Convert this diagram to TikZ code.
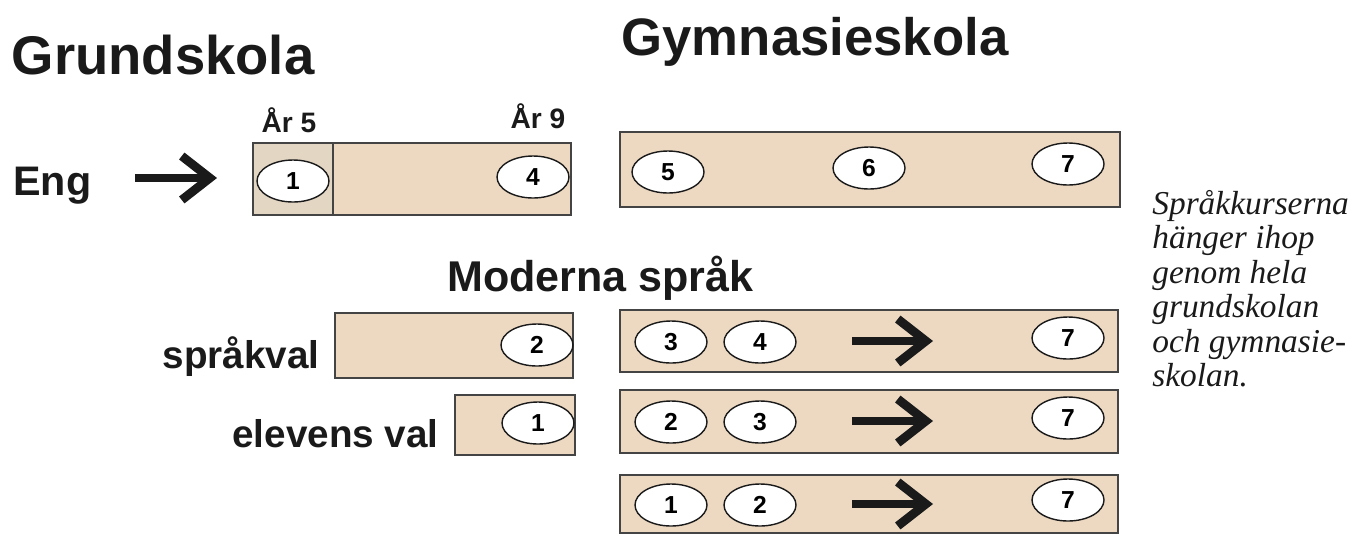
\documentclass[tikz,border=0pt]{standalone}
\usepackage{fontspec}
\setsansfont{Liberation Sans}
\newfontfamily\notefont{Liberation Serif}
\usepackage{xcolor}
\usepackage{tikz}
\usetikzlibrary{shapes.geometric, arrows.meta, fit}
\definecolor{barfill}{HTML}{EDD9C2}
\definecolor{barfirst}{HTML}{E3D6C3}
\definecolor{barline}{HTML}{444444}
\definecolor{inkdark}{HTML}{1A1A1A}

\begin{document}
\begin{tikzpicture}[
    x=0.02cm, y=-0.02cm,
    bar/.style={rectangle, draw=barline, fill=#1, line width=1.1pt, inner sep=0pt},
    bar/.default=barfill,
    oval/.style={ellipse, draw=inkdark, fill=white, line width=0.8pt, minimum width=1.44cm, minimum height=0.84cm, inner sep=0pt, font=\sffamily\bfseries\fontsize{14}{14}\selectfont},
    title/.style={font=\sffamily\bfseries\fontsize{31}{31}\selectfont, text=inkdark, inner sep=0pt},
    label/.style={font=\sffamily\bfseries\fontsize{22}{22}\selectfont, text=inkdark, inner sep=0pt},
    year/.style={font=\sffamily\bfseries\fontsize{16}{16}\selectfont, text=inkdark, inner sep=0pt},
    bigarrow/.style={draw=inkdark, line width=5pt, -{Straight Barb[length=16pt, width=25pt]}},
]
\useasboundingbox (0,0) rectangle (1354,538);

% headings
\node[title, anchor=base] (grund) at (163,74) {Grundskola};
\node[title, font=\sffamily\bfseries\fontsize{30}{30}\selectfont, anchor=base] (gymn) at (815,55) {Gymnasieskola};
\node[year, anchor=base] (ar5) at (289,132) {År 5};
\node[year, anchor=base] (ar9) at (538,128) {År 9};

% engelska
\node[label, font=\sffamily\bfseries\fontsize{23.5}{23.5}\selectfont, anchor=base west] (eng) at (13,195) {Eng};
\coordinate (engfrom) at (135,178);
\coordinate (engto) at (217,178);
\draw[bigarrow] (engfrom) -- (engto);
\node[bar=barfirst, fit={(253,143) (333,215)}] (engA) {};
\node[bar, fit={(333,143) (571,215)}] (engB) {};
\node[oval] (e1) at (293,181) {1};
\node[oval] (e4) at (533,177) {4};

\node[bar, fit={(620,132) (1120,207)}] (gymbar) {};
\node[oval] (g5) at (668,172) {5};
\node[oval] (g6) at (869,168) {6};
\node[oval] (g7) at (1068,164) {7};

% moderna spraak
\node[label, font=\sffamily\bfseries\fontsize{24.5}{24.5}\selectfont, anchor=base west] (modern) at (447,291) {Moderna språk};

\node[label, anchor=base east] (sprakval) at (320,368) {språkval};
\node[bar, fit={(335,313) (573,378)}] (svbar) {};
\node[oval] (sv2) at (537,345) {2};

\node[label, anchor=base east] (elevval) at (439,447) {elevens val};
\node[bar, fit={(455,395) (575,455)}] (evbar) {};
\node[oval] (ev1) at (538,423) {1};

\node[bar, fit={(620,310) (1118,372)}] (rowA) {};
\node[oval] (a3) at (671,342) {3};
\node[oval] (a4) at (760,342) {4};
\node[oval] (a7) at (1068,338) {7};
\coordinate (afrom) at (852,341);
\coordinate (ato) at (933,341);
\draw[bigarrow] (afrom) -- (ato);

\node[bar, fit={(620,390) (1118,453)}] (rowB) {};
\node[oval] (b2) at (671,422) {2};
\node[oval] (b3) at (760,422) {3};
\node[oval] (b7) at (1068,418) {7};
\coordinate (bfrom) at (852,421);
\coordinate (bto) at (933,421);
\draw[bigarrow] (bfrom) -- (bto);

\node[bar, fit={(620,475) (1118,533)}] (rowC) {};
\node[oval] (c1) at (671,505) {1};
\node[oval] (c2) at (760,505) {2};
\node[oval] (c7) at (1068,500) {7};
\coordinate (cfrom) at (852,504);
\coordinate (cto) at (933,504);
\draw[bigarrow] (cfrom) -- (cto);

% side note
\node[anchor=north west, inner sep=0pt, align=left, text=inkdark,
      font=\notefont\itshape\fontsize{19}{19.6}\selectfont] (note) at (1152,190)
  {Språkkurserna\\hänger ihop\\genom hela\\grundskolan\\och gymnasie-\\skolan.};
\end{tikzpicture}
\end{document}
